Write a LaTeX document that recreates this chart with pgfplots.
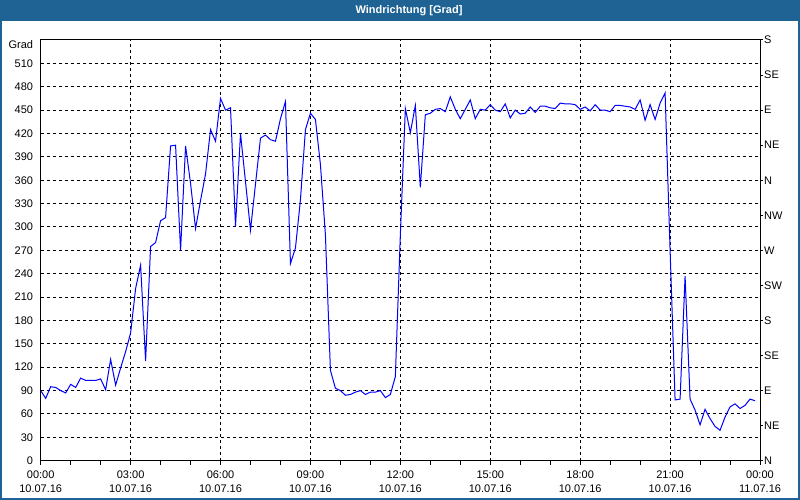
\documentclass[border=0pt]{standalone}
\usepackage{pgfplots}
\usepackage{pgfplotstable}
\pgfplotsset{compat=1.18}
\usepackage{fontspec}
\setmainfont{Liberation Sans}
\definecolor{titlebar}{RGB}{30,99,148}
\definecolor{lineblue}{RGB}{0,0,255}

\pgfplotstableread{
i y
0 90
1 80
2 95
3 94
4 90
5 87
6 98
7 94
8 106
9 103
10 103
11 103
12 105
13 91
14 130
15 97
16 119
17 140
18 164
19 221
20 251
21 128
22 275
23 280
24 308
25 312
26 404
27 405
28 270
29 404
30 356
31 298
32 334
33 368
34 425
35 410
36 465
37 450
38 453
39 301
40 420
41 358
42 296
43 355
44 414
45 418
46 412
47 410
48 439
49 461
50 253
51 273
52 335
53 425
54 446
55 438
56 380
57 290
58 116
59 93
60 90
61 84
62 85
63 88
64 90
65 85
66 88
67 88
68 90
69 81
70 85
71 108
72 290
73 452
74 421
75 456
76 351
77 444
78 446
79 451
80 452
81 448
82 467
83 451
84 439
85 451
86 463
87 439
88 451
89 450
90 457
91 450
92 448
93 458
94 440
95 450
96 445
97 446
98 454
99 447
100 455
101 455
102 453
103 452
104 459
105 458
106 458
107 457
108 451
109 454
110 449
111 457
112 450
113 450
114 448
115 456
116 456
117 455
118 454
119 451
120 463
121 437
122 457
123 438
124 459
125 472
126 270
127 78
128 79
129 237
130 79
131 65
132 46
133 66
134 54
135 44
136 39
137 56
138 69
139 73
140 67
141 71
142 79
143 77
}\winddata

\pgfplotsset{every tick label/.append style={font=\fontsize{11}{14.3}\selectfont}}

\begin{document}
\begin{tikzpicture}
\path[use as bounding box] (0pt,0pt) rectangle (800pt,500pt);
\fill[white] (0pt,0pt) rectangle (800pt,500pt);
\fill[titlebar] (0pt,479.3pt) rectangle (800pt,500pt);
\draw[titlebar, line width=2pt] (1pt,1pt) rectangle (799pt,499pt);
\node[text=white, font=\bfseries\fontsize{11}{13}\selectfont] at (409pt,489.5pt) {Windrichtung [Grad]};

\begin{axis}[
  at={(40.7pt,39.3pt)}, anchor=south west, scale only axis,
  width=719.3pt, height=420.7pt,
  xmin=0, xmax=144, ymin=0, ymax=540,
  axis line style={black, line width=1pt},
  xtick={0,18,...,144},
  xticklabels={{00:00\\10.07.16},{03:00\\10.07.16},{06:00\\10.07.16},{09:00\\10.07.16},{12:00\\10.07.16},{15:00\\10.07.16},{18:00\\10.07.16},{21:00\\10.07.16},{00:00\\11.07.16}},
  minor xtick={6,12,...,138},
  xtick pos=bottom,
  ytick pos=left,
  tick align=outside,
  major tick length=4pt,
  minor tick length=4pt,
  xtick style={black, line width=1pt},
  ytick style={draw=none},
  ytick={0,30,...,540},
  yticklabels={0,30,60,90,120,150,180,210,240,270,300,330,360,390,420,450,480,510,\raisebox{-8.5pt}[0pt][0pt]{Grad}},
  xticklabel style={anchor=north, align=center, inner sep=0pt, yshift=-6pt},
  yticklabel style={anchor=east, inner sep=0pt, xshift=-3.5pt},
  grid=major,
  major grid style={black, line width=1pt, dash pattern=on 3pt off 3pt},
  /pgf/number format/assume math mode=true,
]
\addplot[lineblue, line width=1pt] table[x=i, y=y] {\winddata};
\end{axis}

\begin{axis}[
  at={(40.7pt,39.3pt)}, anchor=south west, scale only axis,
  width=719.3pt, height=420.7pt,
  xmin=0, xmax=144, ymin=0, ymax=540,
  axis y line*=right, axis x line=none,
  axis line style={black, line width=1pt},
  ytick={0,45,...,540},
  yticklabels={N,NE,E,SE,S,SW,W,NW,N,NE,E,SE,S},
  tick align=outside,
  major tick length=3pt,
  ytick style={black, line width=1pt},
  yticklabel style={anchor=west, inner sep=0pt, xshift=1pt},
]
\end{axis}
\end{tikzpicture}
\end{document}
